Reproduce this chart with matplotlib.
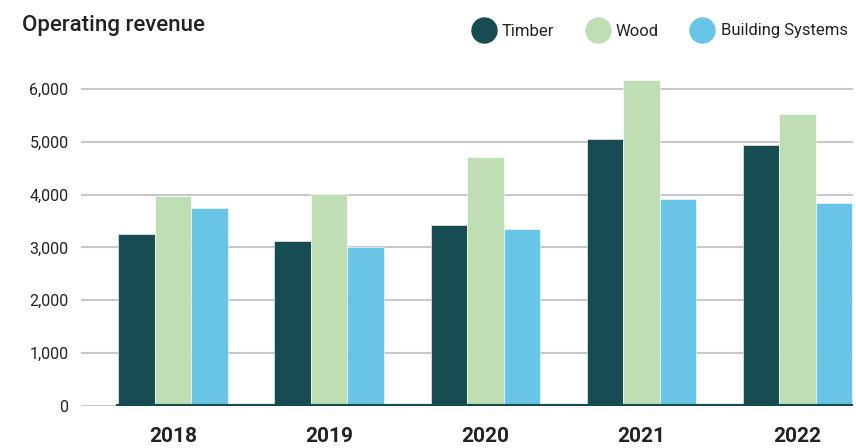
import numpy as np
from matplotlib import pyplot as plt
from matplotlib.lines import Line2D

years = ['2018', '2019', '2020', '2021', '2022']
series = ['Timber', 'Wood', 'Building Systems']
timber = [3256, 3123, 3430, 5054, 4940]
wood = [3980, 4013, 4713, 6171, 5527]
building = [3748, 3010, 3340, 3918, 3842]
colors = ['#174c52', '#bfdeb3', '#68c5e6']

plt.rcParams['font.family'] = ['Roboto', 'DejaVu Sans']

fig = plt.figure(figsize=(8.56, 4.48), dpi=100)
ax = fig.add_axes([81/856, 42/448, (853-81)/856, (406-73)/448])

x = np.arange(len(years))
w = 0.234
for i, (vals, c) in enumerate(zip([timber, wood, building], colors)):
    ax.bar(x + (i-1)*w, vals, w, color=c, edgecolor='white', linewidth=0.4, zorder=3)

ax.set_xlim(-0.59, 4.355)
ax.set_ylim(0, 6300)
ax.set_yticks(range(0, 7000, 1000))
ax.set_yticklabels(['0' if v == 0 else f'{v:,}' for v in range(0, 7000, 1000)])
ax.grid(axis='y', color='#c8c8c8', linewidth=1.5, zorder=0)
ax.axhline(0, xmin=(-1.5*w + 0.59)/4.945, xmax=1, color='#174c52', linewidth=3, zorder=4)

for s in ax.spines.values():
    s.set_visible(False)
ax.tick_params(axis='both', length=0, labelsize=11.5, colors='#222222')
ax.tick_params(axis='y', pad=9)
ax.tick_params(axis='x', pad=15)
ax.set_xticks(x)
ax.set_xticklabels(years, fontsize=15, fontweight='bold')

fig.text(22/856, 1 - 26/448, 'Operating revenue', fontsize=16, fontweight='medium',
         color='#222222', va='center')

handles = [Line2D([], [], marker='o', linestyle='', markersize=18, color=c) for c in colors]
fig.legend(handles, series, loc='center right', bbox_to_anchor=(1.0, 1 - 31/448), ncol=3,
           frameon=False, fontsize=12, handletextpad=0.1, columnspacing=1.6, borderaxespad=0.1,
           labelcolor='#222222')

fig.savefig('out.png', dpi=100)
